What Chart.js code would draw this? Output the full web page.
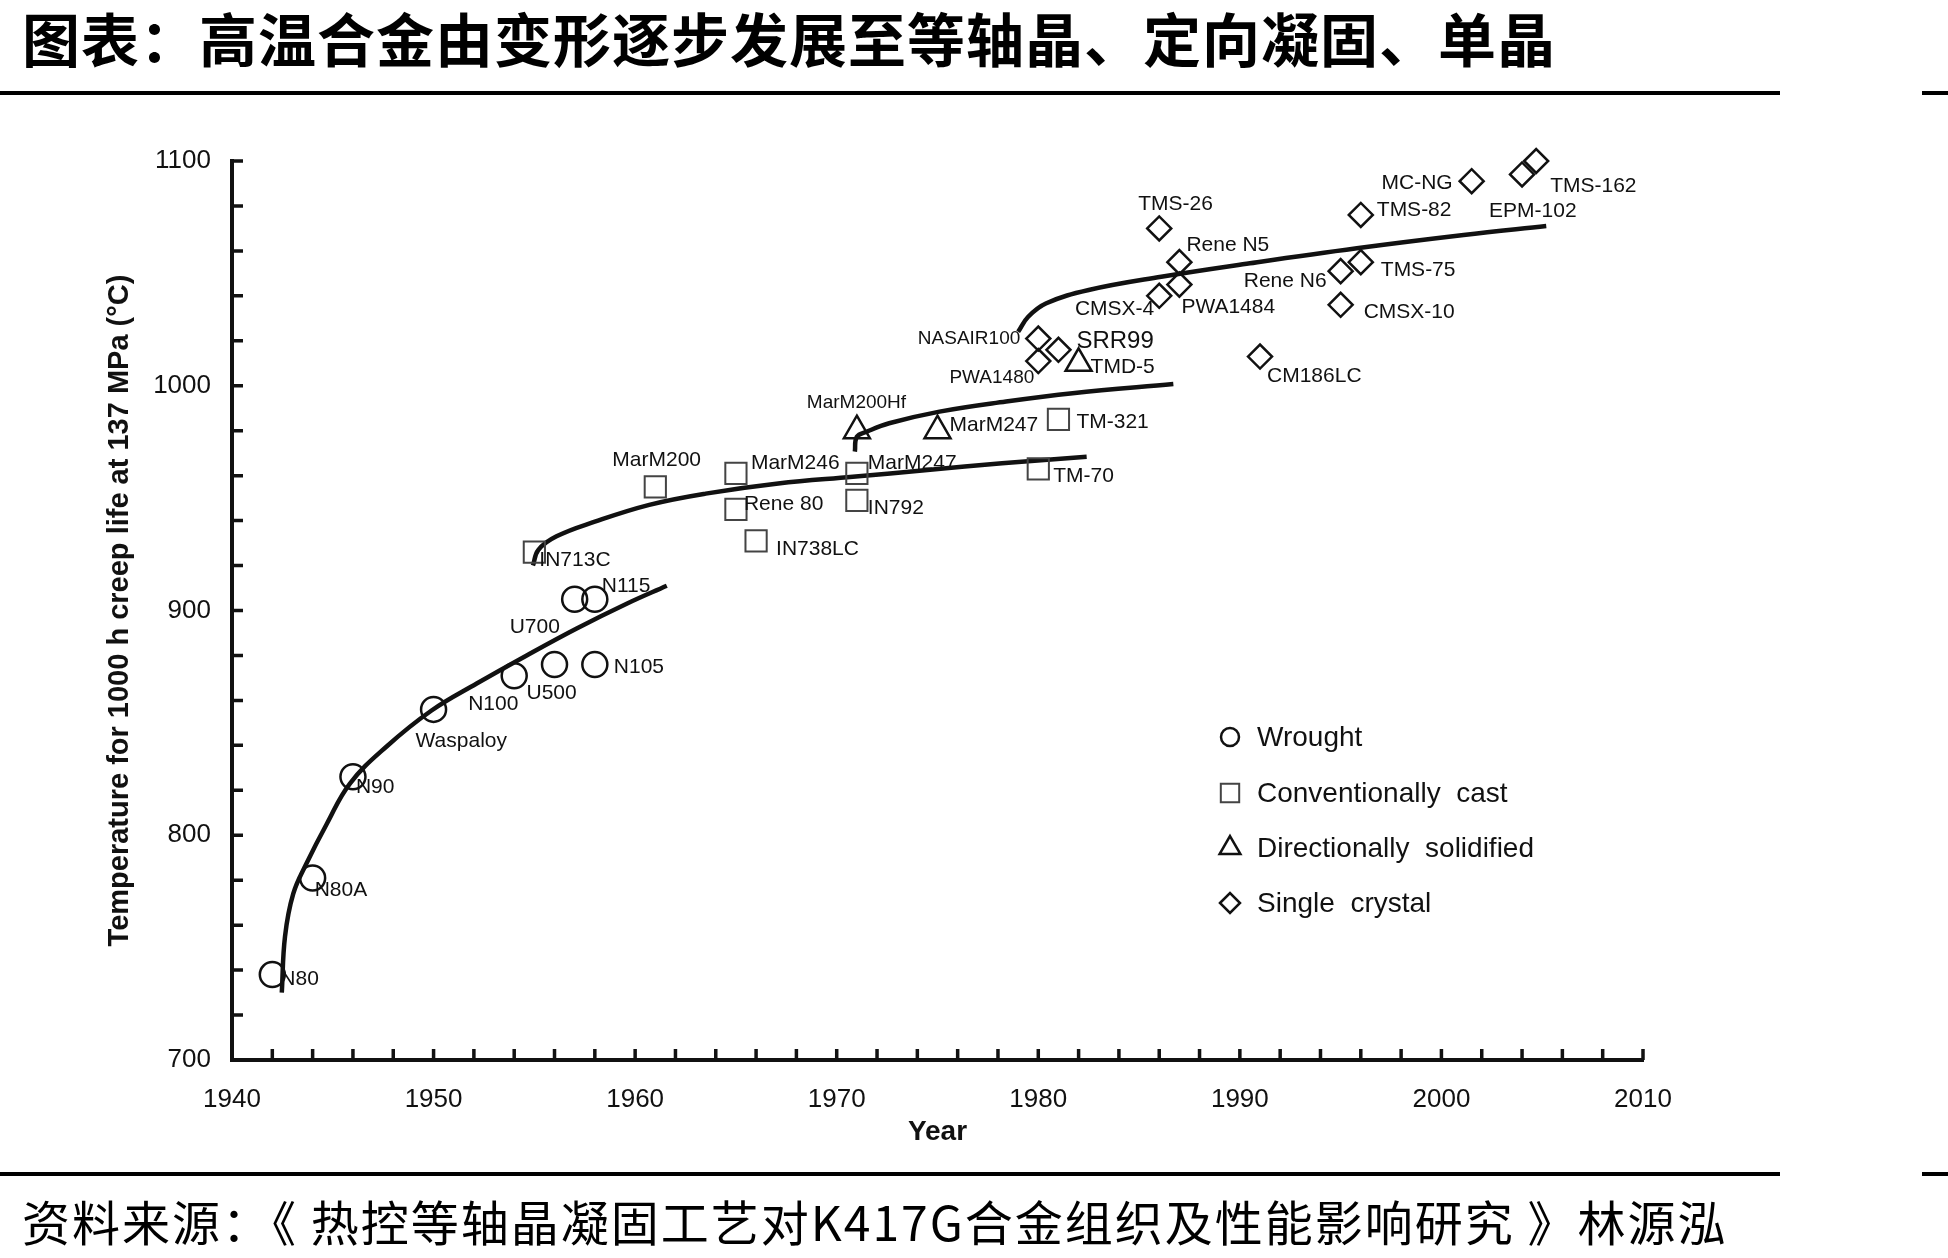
<!DOCTYPE html>
<html lang="zh-CN">
<head>
<meta charset="utf-8">
<title>高温合金由变形逐步发展至等轴晶、定向凝固、单晶</title>
<script src="https://cdn.jsdelivr.net/npm/chart.js"></script>
<style>
  html, body { margin: 0; padding: 0; background: #fff; }
  #page { position: relative; width: 1948px; height: 1258px; overflow: hidden; background: #fff; }
  #chart { position: absolute; left: 0; top: 0; }
  .heading {
    position: absolute; left: 22px; top: 8px;
    font-family: "Noto Sans CJK SC", sans-serif; font-weight: 700;
    font-size: 58px; line-height: 58px; letter-spacing: 1px;
    color: #000; white-space: nowrap;
  }
  .rule { position: absolute; height: 4px; background: #000; }
  .source {
    position: absolute; left: 22px; top: 1196px;
    font-family: "Noto Sans CJK SC", sans-serif; font-weight: 400;
    font-size: 48px; line-height: 48px; letter-spacing: 2px;
    color: #000; white-space: nowrap;
  }
</style>
</head>
<body>
<div id="page">
  <div class="heading">图表：高温合金由变形逐步发展至等轴晶、定向凝固、单晶</div>
  <div class="rule" style="left:0; top:91px; width:1780px;"></div>
  <div class="rule" style="left:1922px; top:91px; width:26px;"></div>
  <canvas id="chart" width="1948" height="1258"></canvas>
  <div class="rule" style="left:0; top:1172px; width:1780px;"></div>
  <div class="rule" style="left:1922px; top:1172px; width:26px;"></div>
  <div class="source">资料来源：《 热控等轴晶凝固工艺对K417G合金组织及性能影响研究 》林源泓</div>
</div>
<script>
// Valeurs (année, température pour 1000 h à 137 MPa)

const xTickLabels = ['1940', '1950', '1960', '1970', '1980', '1990', '2000', '2010'];
const yTickLabels = ['700', '800', '900', '1000', '1100'];

// Forgés (cercles)
const wroughtNames = ['N80', 'N80A', 'N90', 'Waspaloy', 'N100', 'U500', 'N105', 'U700', 'N115'];
const wroughtYears = [1942, 1944, 1946, 1950, 1954, 1956, 1958, 1957, 1958];
const wroughtTemps = [738, 781, 826, 856, 871, 876, 876, 905, 905];

// Coulée conventionnelle (carrés)
const castNames = ['IN713C', 'MarM200', 'MarM246', 'Rene 80', 'IN738LC', 'MarM247', 'IN792', 'TM-70', 'TM-321'];
const castYears = [1955, 1961, 1965, 1965, 1966, 1971, 1971, 1980, 1981];
const castTemps = [926, 955, 961, 945, 931, 961, 949, 963, 985];

// Solidification dirigée (triangles)
const dsNames = ['MarM200Hf', 'MarM247', 'TMD-5'];
const dsYears = [1971, 1975, 1982];
const dsTemps = [980, 980, 1010];

// Monocristaux (losanges)
const scNames = ['NASAIR100', 'PWA1480', 'SRR99', 'TMS-26', 'Rene N5', 'CMSX-4', 'PWA1484', 'CM186LC',
                 'Rene N6', 'TMS-75', 'CMSX-10', 'TMS-82', 'MC-NG', 'EPM-102', 'TMS-162'];
const scYears = [1980, 1980, 1981, 1986, 1987, 1986, 1987, 1991, 1995, 1996, 1995, 1996, 2001.5, 2004, 2004.7];
const scTemps = [1021, 1011, 1016, 1070, 1055, 1040, 1045, 1013, 1051, 1055, 1036, 1076, 1091, 1094, 1100];

// Courbes de tendance (points relevés le long des traits)
const wroughtCurveYears = [1942.47, 1942.63, 1943.04, 1943.7, 1944.7, 1945.85, 1947.67, 1949.9, 1952.14, 1954.62, 1957.1, 1959.58, 1961.57];
const wroughtCurveTemps = [730, 755, 774, 787.5, 805, 823, 839.5, 855.5, 867.5, 880, 892, 903, 911];

const castCurveYears = [1954.93, 1955.2, 1956.1, 1958.0, 1960.7, 1963.5, 1967.1, 1970.8, 1974.5, 1978.2, 1982.4];
const castCurveTemps = [920, 927, 933, 939.5, 947, 952, 956.5, 959.5, 962.5, 965.5, 968.4];

const dsCurveYears = [1970.9, 1971.0, 1971.5, 1972.6, 1975.1, 1978.4, 1981.7, 1986.7];
const dsCurveTemps = [970.7, 977.3, 979.6, 983.3, 988.5, 993, 996.7, 1000.8];

const scCurveYears = [1979.0, 1979.5, 1980.4, 1982.5, 1986.1, 1990.5, 1995.8, 2001.1, 2005.2];
const scCurveTemps = [1024, 1030.7, 1036.7, 1042.6, 1048.5, 1054.5, 1061.2, 1067.1, 1071.1];

// Placement des étiquettes : [dx, dy, alignement, taille]
const labelPlacement = {
    wrought: [[8, 5], [2, 12], [3, 10], [-18, 32], [-46, 29], [-28, 29], [19, 3], [-65, 28], [7, -13]],
    cast: [[5, 8], [-43, -27], [15, -10], [8, -5], [20, 8], [11, -10], [11, 8], [15, 7], [18, 3]],
    ds: [[-50, -28, 'left', 19], [12, -5], [12, 4]],
    sc: [[-18, 0, 'right', 19], [-4, 17, 'right', 19], [18, -8, 'left', 24], [-21, -24], [7, -17],
         [-5, 13, 'right'], [2, 23], [7, 20], [-14, 10, 'right'], [20, 8], [23, 7], [16, -5],
         [-19, 2, 'right'], [-33, 37], [14, 25]]
};

const FONT = '"Liberation Sans", Arial, sans-serif';
const INK = '#111';

function toPoints(xs, ys) {
    return xs.map((x, i) => ({ x: x, y: ys[i] }));
}

function markerSet(key, label, names, xs, ys, style, radius, color, width) {
    return {
        key: key,
        label: label,
        names: names,
        data: toPoints(xs, ys),
        pointStyle: style,
        pointRadius: radius,
        pointBorderWidth: width,
        pointBorderColor: color,
        pointBackgroundColor: 'rgba(0,0,0,0)',
        showLine: false,
        clip: false
    };
}

function curveSet(xs, ys) {
    return {
        data: toPoints(xs, ys),
        showLine: true,
        borderColor: INK,
        borderWidth: 4.5,
        tension: 0.4,
        pointRadius: 0,
        fill: false,
        clip: false
    };
}

const datasets = [
    markerSet('wrought', 'Wrought', wroughtNames, wroughtYears, wroughtTemps, 'circle', 12.5, INK, 2.5),
    markerSet('cast', 'Conventionally  cast', castNames, castYears, castTemps, 'rect', 15, '#444', 2),
    markerSet('ds', 'Directionally  solidified', dsNames, dsYears, dsTemps, 'triangle', 15, INK, 2.5),
    markerSet('sc', 'Single  crystal', scNames, scYears, scTemps, 'rectRot', 12, INK, 2.5),
    curveSet(wroughtCurveYears, wroughtCurveTemps),
    curveSet(castCurveYears, castCurveTemps),
    curveSet(dsCurveYears, dsCurveTemps),
    curveSet(scCurveYears, scCurveTemps)
];

// Étiquettes des alliages à côté de chaque symbole
const pointLabels = {
    id: 'pointLabels',
    afterDatasetsDraw(chart) {
        const ctx = chart.ctx;
        ctx.save();
        ctx.fillStyle = INK;
        ctx.textBaseline = 'middle';
        chart.data.datasets.forEach((ds, di) => {
            if (!ds.names) return;
            const meta = chart.getDatasetMeta(di);
            meta.data.forEach((pt, i) => {
                const p = labelPlacement[ds.key][i] || [10, 0];
                ctx.font = (p[3] || 21) + 'px ' + FONT;
                ctx.textAlign = p[2] || 'left';
                ctx.fillText(ds.names[i], pt.x + p[0], pt.y + p[1]);
            });
        });
        ctx.restore();
    }
};

// Graduations tournées vers l'intérieur (tous les 20 °C et tous les 2 ans)
const innerTicks = {
    id: 'innerTicks',
    afterDraw(chart) {
        const { ctx, chartArea: a, scales: { x, y } } = chart;
        ctx.save();
        ctx.strokeStyle = INK;
        ctx.lineWidth = 3.5;
        ctx.beginPath();
        for (let v = 720; v <= 1100; v += 20) {
            const py = y.getPixelForValue(v);
            ctx.moveTo(a.left, py);
            ctx.lineTo(a.left + 11, py);
        }
        for (let v = 1942; v <= 2010; v += 2) {
            const px = x.getPixelForValue(v);
            ctx.moveTo(px, a.bottom);
            ctx.lineTo(px, a.bottom - 11);
        }
        ctx.stroke();
        ctx.restore();
    }
};

// Légende dessinée dans la zone du graphique
const insideLegend = {
    id: 'insideLegend',
    afterDraw(chart) {
        const { ctx, chartArea: a } = chart;
        const rows = [576, 632, 687, 742];
        const sizes = [9, 13, 12, 10];
        ctx.save();
        ctx.textBaseline = 'middle';
        ctx.textAlign = 'left';
        ctx.font = '28px ' + FONT;
        for (let i = 0; i < 4; i++) {
            const ds = chart.data.datasets[i];
            const mx = a.left + 998;
            const my = a.top + rows[i];
            ctx.strokeStyle = ds.pointBorderColor;
            ctx.fillStyle = 'rgba(0,0,0,0)';
            ctx.lineWidth = ds.pointBorderWidth;
            Chart.helpers.drawPoint(ctx, {
                pointStyle: ds.pointStyle, radius: sizes[i], rotation: 0, borderWidth: ds.pointBorderWidth
            }, mx, my);
            ctx.fillStyle = INK;
            ctx.fillText(ds.label, a.left + 1025, my + 1);
        }
        ctx.restore();
    }
};

new Chart(document.getElementById('chart'), {
    type: 'scatter',
    data: { datasets: datasets },
    options: {
        responsive: false,
        devicePixelRatio: 1,
        animation: false,
        events: [],
        layout: { padding: { left: 99, right: 305, top: 161, bottom: 105 } },
        plugins: {
            legend: { display: false },
            tooltip: { enabled: false }
        },
        scales: {
            x: {
                type: 'linear',
                min: 1940,
                max: 2010,
                afterFit: (s) => { s.height = 93; },
                ticks: {
                    stepSize: 10,
                    autoSkip: false,
                    maxRotation: 0,
                    padding: 24,
                    color: INK,
                    font: { size: 26 },
                    callback: (v) => xTickLabels.includes(String(v)) ? String(v) : ''
                },
                grid: { display: false, drawTicks: false },
                border: { display: true, color: INK, width: 4 },
                title: {
                    display: true,
                    text: 'Year',
                    color: INK,
                    font: { size: 28, weight: 'bold' },
                    padding: { top: 4, bottom: 4 }
                }
            },
            y: {
                type: 'linear',
                min: 700,
                max: 1100,
                afterFit: (s) => { s.width = 133; },
                ticks: {
                    stepSize: 100,
                    padding: 21,
                    color: INK,
                    font: { size: 26 },
                    callback: (v) => yTickLabels.includes(String(v)) ? String(v) : ''
                },
                grid: { display: false, drawTicks: false },
                border: { display: true, color: INK, width: 4 },
                title: {
                    display: true,
                    text: 'Temperature for 1000 h creep life at 137 MPa (°C)',
                    color: INK,
                    font: { size: 29, weight: 'bold' },
                    padding: { top: 4, bottom: 4 }
                }
            }
        }
    },
    plugins: [pointLabels, innerTicks, insideLegend]
});
</script>
</body>
</html>
